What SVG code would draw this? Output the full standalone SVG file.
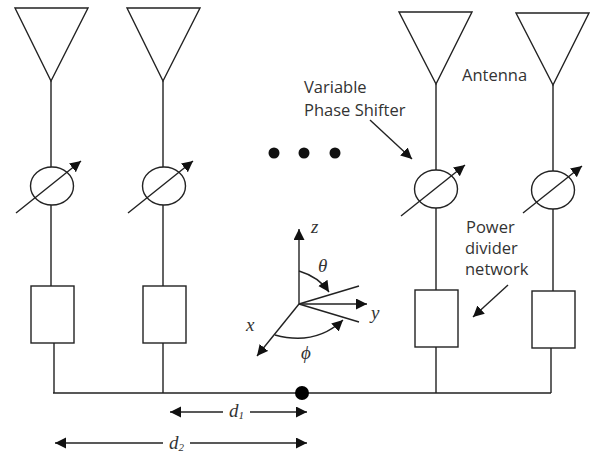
<svg xmlns="http://www.w3.org/2000/svg" width="593" height="455" viewBox="0 0 593 455">
<style>
.l{fill:none;stroke:#222;stroke-width:1.4}
.n{fill:#fff;stroke:#222;stroke-width:1.4}
.a{fill:none;stroke:#222;stroke-width:1.4;marker-end:url(#h)}
.t{font-family:"Open Sans","Noto Sans",sans-serif;font-size:16.5px;fill:#333}
.m{font-family:"Liberation Serif",serif;font-style:italic;font-size:19px;fill:#333}
</style>
<defs>
<marker id="h" markerUnits="userSpaceOnUse" markerWidth="13" markerHeight="13" refX="11" refY="5.5" orient="auto"><path d="M0 0L11 5.5L0 11Z" fill="#111"/></marker>
</defs>
<rect width="593" height="455" fill="#fff"/>
<g id="connectors">
<path class="l" d="M51 81V167M51 205V286M54 343V393M163 81V167M163 205V286M163 343V393M436 84V170M436 208V290M436 347V393M553 85V171M553 209V291M551 348V393M53 393H551"/>
<path class="a" d="M370 120L412 159"/>
<path class="a" d="M508 285L473 317"/>
</g>
<g id="antenna1"><path class="l" d="M15 8H88L51 81Z"/></g>
<g id="antenna2"><path class="l" d="M127 8H200L163 81Z"/></g>
<g id="antenna3"><path class="l" d="M399 12H472L436 84Z"/></g>
<g id="antenna4"><path class="l" d="M516 13H589L553 85Z"/></g>
<g id="shifter1"><ellipse class="n" cx="52" cy="186" rx="21.5" ry="19"/><path class="a" d="M16 213L81 161"/></g>
<g id="shifter2"><ellipse class="n" cx="164" cy="186" rx="21.5" ry="19"/><path class="a" d="M128 213L193 161"/></g>
<g id="shifter3"><ellipse class="n" cx="436" cy="189" rx="21.5" ry="19"/><path class="a" d="M401 216L465 165"/></g>
<g id="shifter4"><ellipse class="n" cx="553" cy="190" rx="21.5" ry="19"/><path class="a" d="M523 213L582 166"/></g>
<g id="divider1"><rect class="n" x="31" y="286" width="43" height="57"/></g>
<g id="divider2"><rect class="n" x="143" y="286" width="43" height="57"/></g>
<g id="divider3"><rect class="n" x="415" y="290" width="43" height="57"/></g>
<g id="divider4"><rect class="n" x="532" y="291" width="43" height="57"/></g>
<g id="dots" fill="#111"><circle cx="274" cy="153" r="5.5"/><circle cx="304" cy="153" r="5.5"/><circle cx="335" cy="153" r="5.5"/></g>
<g id="centre"><circle cx="302" cy="393" r="7" fill="#000"/></g>
<g id="axes">
<path class="a" d="M299 304V229"/>
<path class="a" d="M299 304H367"/>
<path class="a" d="M299 304L257 356"/>
<path class="l" d="M299 304L359 286M299 304L359 322"/>
<path class="a" d="M299 271Q319 277 329 292"/>
<path class="a" d="M275 335Q315 346 343 320"/>
<text class="m" x="311" y="233">z</text>
<text class="m" x="318" y="272">θ</text>
<text class="m" x="371" y="319">y</text>
<text class="m" x="246" y="331">x</text>
<text class="m" x="301" y="359">ϕ</text>
</g>
<g id="dimensions">
<path class="a" d="M223 412H170"/>
<path class="a" d="M250 412H307"/>
<path class="a" d="M163 443H55"/>
<path class="a" d="M190 443H307"/>
<text class="m" x="229" y="417">d<tspan font-size="11" dy="2">1</tspan></text>
<text class="m" x="169" y="449">d<tspan font-size="11" dy="2">2</tspan></text>
</g>
<g id="labels">
<text class="t" x="304" y="93">Variable</text>
<text class="t" x="304" y="116">Phase Shifter</text>
<text class="t" x="462" y="81">Antenna</text>
<text class="t" x="466" y="233">Power</text>
<text class="t" x="465" y="254">divider</text>
<text class="t" x="465" y="275">network</text>
</g>
</svg>
